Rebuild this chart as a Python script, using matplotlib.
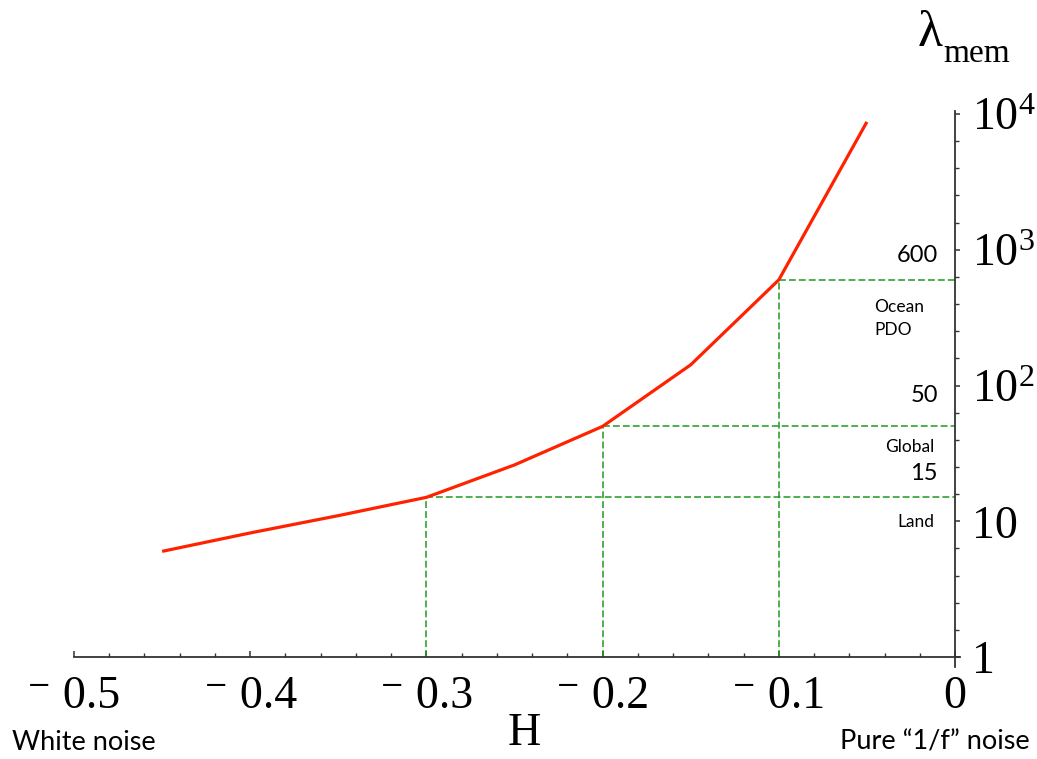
import matplotlib
matplotlib.use("Agg")
import matplotlib.pyplot as plt
from matplotlib.ticker import FixedLocator, FuncFormatter
import numpy as np

# memory scale versus fluctuation exponent H
h_values = [-0.45, -0.40, -0.35, -0.30, -0.25, -0.20, -0.15, -0.10, -0.05]
lam_mem = [6.0, 8.2, 11.0, 15.0, 26.0, 50.0, 142.0, 600.0, 8750.0]

# regimes marked on the curve: (H, lambda)
marked_h = [-0.30, -0.20, -0.10]
marked_lam = [15, 50, 600]

x_ticks = [-0.5, -0.4, -0.3, -0.2, -0.1, 0.0]
y_ticks = [1, 10, 100, 1000, 10000]

W, H = 1037, 759
serif = "Liberation Serif"
sans = "Lato"

plt.rcParams["mathtext.fontset"] = "custom"
plt.rcParams["mathtext.rm"] = serif
plt.rcParams["mathtext.it"] = serif + ":italic"


def fpos(px, py):
    return px / W, 1 - py / H


def x_label(v, pos):
    if abs(v) < 1e-9:
        return "0"
    return "\u207b 0.{:d}".format(int(round(-v * 10)))


def y_label(v, pos):
    k = int(round(np.log10(v)))
    if k == 0:
        return "1"
    if k == 1:
        return "10"
    return r"$\mathrm{10^{%d}}$" % k


fig = plt.figure(figsize=(W / 100, H / 100), dpi=100)
ax = fig.add_axes([74 / W, 1 - 657 / H, (955 - 74) / W, (657 - 114) / H])

ax.plot(h_values, lam_mem, color="#ff2200", lw=2.3, solid_capstyle="butt", zorder=3)

for hm, lm in zip(marked_h, marked_lam):
    ax.plot([hm, 0], [lm, lm], color="#1f9a1f", lw=1.1, dashes=(4.5, 2), zorder=2, clip_on=False)
    ax.plot([hm, hm], [1, lm], color="#1f9a1f", lw=1.1, dashes=(4.5, 2), zorder=2, clip_on=False)

ax.set_yscale("log")
ax.set_xlim(-0.5, 0)
ax.set_ylim(1, 1e4)

ax.spines["top"].set_visible(False)
ax.spines["left"].set_visible(False)
ax.spines["right"].set_color("#333333")
ax.spines["bottom"].set_color("#333333")
ax.spines["right"].set_linewidth(1.3)
ax.spines["bottom"].set_linewidth(1.3)
ax.spines["right"].set_bounds(0.84, 1.05e4)
ax.spines["bottom"].set_bounds(-0.5, 0.003)

ax.yaxis.tick_right()
ax.xaxis.set_major_locator(FixedLocator(x_ticks))
ax.xaxis.set_minor_locator(FixedLocator(np.arange(-0.5, 0.001, 0.02)))
ax.yaxis.set_major_locator(FixedLocator(y_ticks))
ax.yaxis.set_minor_locator(FixedLocator(10 ** np.arange(0, 4.01, 0.2)))
ax.yaxis.set_minor_formatter(FuncFormatter(lambda v, p: ""))
ax.xaxis.set_major_formatter(FuncFormatter(x_label))
ax.yaxis.set_major_formatter(FuncFormatter(y_label))

ax.tick_params(axis="x", which="major", direction="in", length=4.5, width=1.1,
               color="#333333", pad=13, labelsize=33)
ax.tick_params(axis="x", which="minor", direction="in", length=3, width=1,
               color="#333333")
ax.tick_params(axis="y", which="major", direction="out", length=3.5, width=1.1,
               color="#333333", pad=9, labelsize=33)
ax.tick_params(axis="y", which="minor", direction="out", length=3, width=1,
               color="#333333")
for lab in ax.get_xticklabels() + ax.get_yticklabels():
    lab.set_fontfamily([serif, "DejaVu Serif"])

# axis titles
fig.text(*fpos(524, 734), "H", family=serif, fontsize=33, ha="center", va="center")
fig.text(*fpos(918, 46), "λ", family=serif, fontsize=37, ha="left", va="baseline")
fig.text(*fpos(943, 62), "mem", family=serif, fontsize=24, ha="left", va="baseline")

# regime labels along the axis
fig.text(*fpos(938, 255), "600", family=sans, fontsize=17, ha="right", va="center")
fig.text(*fpos(938, 395), "50", family=sans, fontsize=17, ha="right", va="center")
fig.text(*fpos(938, 473), "15", family=sans, fontsize=17, ha="right", va="center")
fig.text(*fpos(874, 307), "Ocean", family=sans, fontsize=12.5, ha="left", va="center")
fig.text(*fpos(874, 330), "PDO", family=sans, fontsize=12.5, ha="left", va="center")
fig.text(*fpos(934, 447), "Global", family=sans, fontsize=12.5, ha="right", va="center")
fig.text(*fpos(934, 522), "Land", family=sans, fontsize=12.5, ha="right", va="center")

fig.text(*fpos(12, 742), "White noise", family=sans, fontsize=19.5, ha="left", va="center")
fig.text(*fpos(1030, 742), "Pure \u201c1/f\u201d noise", family=sans, fontsize=19.5,
         ha="right", va="center")

fig.savefig("out.png", dpi=100, facecolor="white")
